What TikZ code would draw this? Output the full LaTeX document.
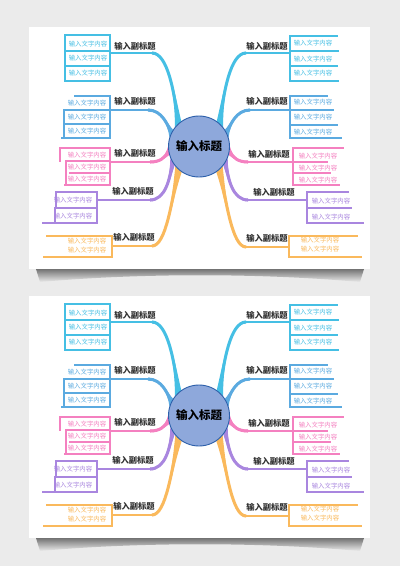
\documentclass[tikz,border=0pt]{standalone}
\usepackage{fontspec}
\newfontfamily\cjk{Noto Sans CJK SC}
\usepackage{tikz}
\definecolor{mapCyan}{HTML}{45BFE4}
\definecolor{mapBlue}{HTML}{5BAAE0}
\definecolor{mapPink}{HTML}{F480C0}
\definecolor{mapPurple}{HTML}{A986DF}
\definecolor{mapOrange}{HTML}{FAB95C}
\definecolor{titleFill}{HTML}{8EA8DB}
\definecolor{titleLine}{HTML}{2C5FAA}
\definecolor{backGray}{HTML}{EBEBEB}
\definecolor{subText}{HTML}{333333}
\pgfdeclarelayer{pageLayer}
\pgfdeclarelayer{trunkLayer}
\pgfsetlayers{pageLayer,trunkLayer,main}

\begin{document}
\begin{tikzpicture}
		[x=1pt,y=-1pt,
		boxDecorate/.style={line width=1.4pt,line cap=rect},%
		stemDecorate/.style={line width=2.5pt},%
		itemDecorate/.style={inner sep=0pt,font=\cjk\fontsize{6.4}{6.4}\selectfont},%
		subDecorate/.style={inner sep=0pt,text=subText,font=\cjk\bfseries\fontsize{8.3}{8.3}\selectfont},%
		titleDecorate/.style={shape=circle,minimum size=61pt,inner sep=0pt,fill=titleFill,draw=titleLine,line width=0.9pt,font=\cjk\bfseries\fontsize{11.5}{12}\selectfont}]
		\begin{pgfonlayer}{pageLayer}
			\fill[backGray] (0,0) rectangle (400,566);
		\end{pgfonlayer}
		\foreach \pageShift in {0,269}
		{
		\begin{scope}[yshift=-\pageShift pt]
		%% page and shadow
		\begin{pgfonlayer}{pageLayer}
			\shade[top color=black!55,bottom color=backGray] (36,269) -- (364,269) -- (360,282) .. controls (260,273) and (140,273) .. (40,282) -- cycle;
			\fill[white] (29,27) rectangle (370,269);
		\end{pgfonlayer}
		%% central topic
		\node[titleDecorate] (title) at (199,146.5) {输入标题};
		%% left groups
		\foreach \col/\spx/\ya/\yb/\tx/\lines/\sides/\texts in {
			mapCyan/110/35/81/88/{35/65,51/65,66/65,81/65}/{65/35/81}/{44,58,73},
			mapBlue/110/96/138/87/{96/75,110/66,124/64,138/62}/{64/110/138}/{103,117,131},
			mapPink/110/148/185/87/{148/60,161/66,173/70,185/65}/{60/148/161,66/161/185}/{155,167,179},
			mapPurple/97/192/223/73/{192/56,208/55,223/43}/{56/192/208,55/208/223}/{200,216},
			mapOrange/112/236/257/87/{236/47,257/44}/{112/236/236}/{241,250}}
		{
			\draw[boxDecorate,\col] (\spx,\ya) -- (\spx,\yb);
			\foreach \y/\xs in \lines
				{\draw[boxDecorate,\col] (\xs,\y) -- (\spx,\y);}
			\foreach \x/\ys/\ye in \sides
				{\draw[boxDecorate,\col] (\x,\ys) -- (\x,\ye);}
			\foreach \ty in \texts
				{\node[itemDecorate,text=\col] (left-\ty) at (\tx,\ty) {输入文字内容};}
		}
		%% right groups
		\foreach \col/\spx/\ya/\yb/\tx/\lines/\texts in {
			mapCyan/290/36/81/313/{36/337,51/338,66/337,81/338}/{43,59,73},
			mapBlue/290/96/138/313/{96/327,110/333,125/337,138/341}/{102,117,132},
			mapPink/293/148/185/318/{148/343,162/327,173/330,185/339}/{156,168,180},
			mapPurple/307/192/223/331/{192/348,208/351,223/363}/{201,217},
			mapOrange/289/236/257/320/{236/357,257/361}/{240,249}}
		{
			\draw[boxDecorate,\col] (\spx,\ya) -- (\spx,\yb);
			\foreach \y/\xe in \lines
				{\draw[boxDecorate,\col] (\spx,\y) -- (\xe,\y);}
			\foreach \ty in \texts
				{\node[itemDecorate,text=\col] (right-\ty) at (\tx,\ty) {输入文字内容};}
		}
		%% subtitles and trunks
		\foreach \col/\spx/\uy/\px/\ax/\bx/\by/\ang/\sgn/\sx/\sy in {
			mapCyan/110/53/152/168/175/95/133/-1/135/46,
			mapBlue/110/110/148/162/168/125/155/-1/135/101,
			mapPink/110/162/150/160/165/158/188/-1/135/153,
			mapPurple/97/200/150/165/170/180/210/-1/133/191,
			mapOrange/112/246/152/166/172/200/228/-1/134/237,
			mapCyan/290/53/246/230/223/95/47/1/267/46,
			mapBlue/290/110/250/236/230/125/25/1/267/101,
			mapPink/293/162/248/238/233/158/352/1/269/154,
			mapPurple/307/200/248/233/228/180/330/1/274/192,
			mapOrange/289/247/246/232/226/200/312/1/267/238}
		{
			\pgfmathtruncatemacro\angA{\ang+8*\sgn}
			\pgfmathtruncatemacro\angB{\ang-8*\sgn}
			\node[subDecorate] (sub-\sx-\sy) at (\sx,\sy) {输入副标题};
			\begin{pgfonlayer}{trunkLayer}
				\draw[stemDecorate,\col] (\spx,\uy) -- (\px,\uy);
				\draw[\col,line width=3pt] (\px,\uy) .. controls (\ax,\uy) and (\bx,\by) .. (title.\ang);
				\fill[\col] (\px,\uy-1.3) .. controls (\ax,\uy-1.3) and (\bx,\by) .. (title.\angA)
					-- (title.\angB) .. controls (\bx,\by) and (\ax,\uy+1.3) .. (\px,\uy+1.3) -- cycle;
			\end{pgfonlayer}
		}
		\end{scope}
		}
	\end{tikzpicture}
\end{document}
